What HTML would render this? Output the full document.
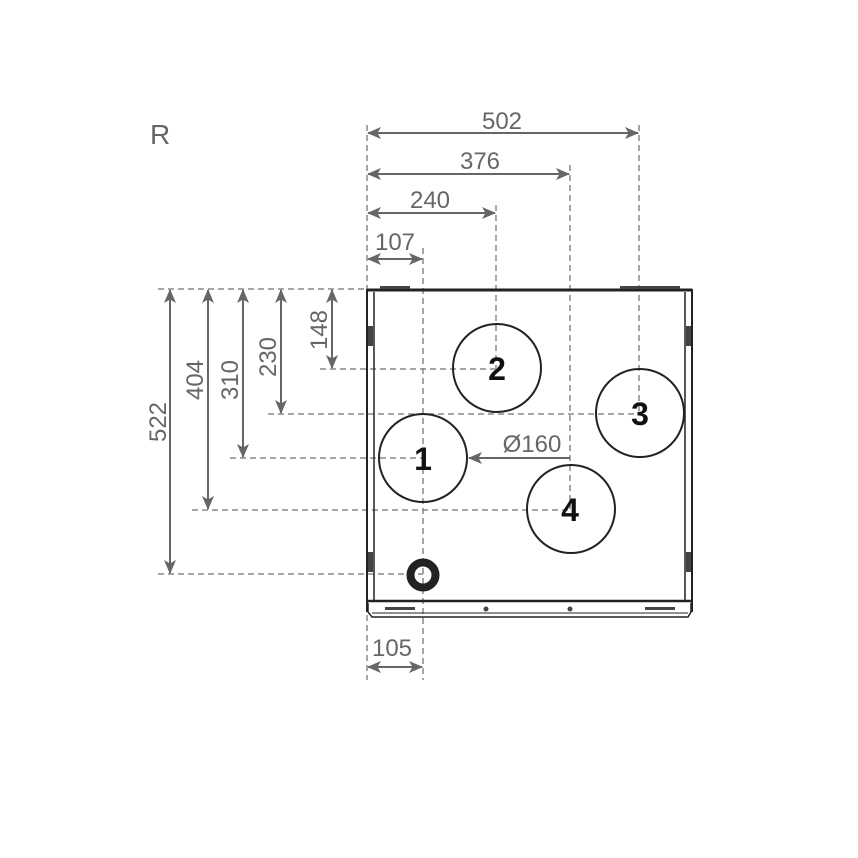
<!DOCTYPE html>
<html><head><meta charset="utf-8"><style>
html,body{margin:0;padding:0;background:#fff}
svg{display:block}
text{font-family:"Liberation Sans",sans-serif}
</style></head><body>
<svg width="858" height="858" viewBox="0 0 858 858" xmlns="http://www.w3.org/2000/svg">
<defs>
<marker id="a" viewBox="0 0 14 12" refX="13" refY="6" markerWidth="14" markerHeight="12" markerUnits="userSpaceOnUse" orient="auto-start-reverse">
<path d="M0,0 L14,6 L0,12 L3.5,6 Z" fill="#666"/></marker>
</defs>
<rect width="858" height="858" fill="#fff"/>
<text x="150" y="144" font-size="28" fill="#666">R</text>
<g stroke="#888" stroke-width="1.5" stroke-dasharray="6,4" fill="none">
<line x1="367" y1="125" x2="367" y2="680"/>
<line x1="423" y1="248" x2="423" y2="680"/>
<line x1="496" y1="205" x2="496" y2="368"/>
<line x1="570" y1="165" x2="570" y2="509"/>
<line x1="639" y1="125" x2="639" y2="413"/>
<line x1="158" y1="289" x2="367" y2="289"/>
<line x1="320" y1="369" x2="497" y2="369"/>
<line x1="268" y1="414" x2="640" y2="414"/>
<line x1="230" y1="458" x2="423" y2="458"/>
<line x1="192" y1="510" x2="571" y2="510"/>
<line x1="158" y1="574" x2="423" y2="574"/>
</g>
<g stroke="#666" stroke-width="2" marker-start="url(#a)" marker-end="url(#a)">
<line x1="368" y1="133" x2="638" y2="133"/>
<line x1="368" y1="174" x2="569" y2="174"/>
<line x1="368" y1="213" x2="495" y2="213"/>
<line x1="368" y1="259" x2="422" y2="259"/>
<line x1="368" y1="667" x2="422" y2="667"/>
<line x1="170" y1="290" x2="170" y2="573"/>
<line x1="208" y1="290" x2="208" y2="509"/>
<line x1="243" y1="290" x2="243" y2="457"/>
<line x1="281" y1="290" x2="281" y2="413"/>
<line x1="332" y1="290" x2="332" y2="368"/>
</g>
<line x1="570" y1="458" x2="469" y2="458" stroke="#666" stroke-width="2" marker-end="url(#a)"/>
<g fill="#666" font-size="24" text-anchor="middle">
<text x="502" y="129">502</text>
<text x="480" y="169">376</text>
<text x="430" y="208">240</text>
<text x="395" y="250">107</text>
<text x="392" y="656">105</text>
<text x="532" y="452">Ø160</text>
<text transform="translate(166,422) rotate(-90)">522</text>
<text transform="translate(203,380) rotate(-90)">404</text>
<text transform="translate(238,380) rotate(-90)">310</text>
<text transform="translate(276,357) rotate(-90)">230</text>
<text transform="translate(327,330) rotate(-90)">148</text>
</g>
<g fill="none" stroke="#222" stroke-width="2">
<line x1="367" y1="290" x2="692" y2="290" stroke-width="3"/>
<line x1="367" y1="289" x2="367" y2="612"/>
<line x1="374" y1="292" x2="374" y2="601" stroke-width="1.5"/>
<line x1="692" y1="289" x2="692" y2="612"/>
<line x1="685" y1="292" x2="685" y2="601" stroke-width="1.5"/>
<line x1="366" y1="601" x2="693" y2="601" stroke-width="2.5"/>
<path d="M368,603 L368,612 L372,617 L688,617 L691,612 L691,603" stroke-width="1.5"/>
<line x1="372" y1="613" x2="688" y2="613" stroke-width="1"/>
<circle cx="423" cy="458" r="44"/>
<circle cx="497" cy="368" r="44"/>
<circle cx="640" cy="413" r="44"/>
<circle cx="571" cy="509" r="44"/>
<circle cx="423" cy="575" r="12.5" stroke-width="8"/>
</g>
<g fill="#444">
<rect x="368" y="326" width="5" height="20"/>
<rect x="686" y="326" width="5" height="20"/>
<rect x="368" y="552" width="5" height="20"/>
<rect x="686" y="552" width="5" height="20"/>
<rect x="385" y="607" width="30" height="3"/>
<rect x="645" y="607" width="30" height="3"/>
<rect x="380" y="286" width="30" height="3"/>
<rect x="620" y="286" width="60" height="3"/>
<circle cx="486" cy="609" r="2.5"/>
<circle cx="570" cy="609" r="2.5"/>
</g>
<g fill="#111" font-size="32" font-weight="bold" text-anchor="middle">
<text x="423" y="470">1</text>
<text x="497" y="380">2</text>
<text x="640" y="425">3</text>
<text x="570" y="521">4</text>
</g>
</svg>
</body></html>
